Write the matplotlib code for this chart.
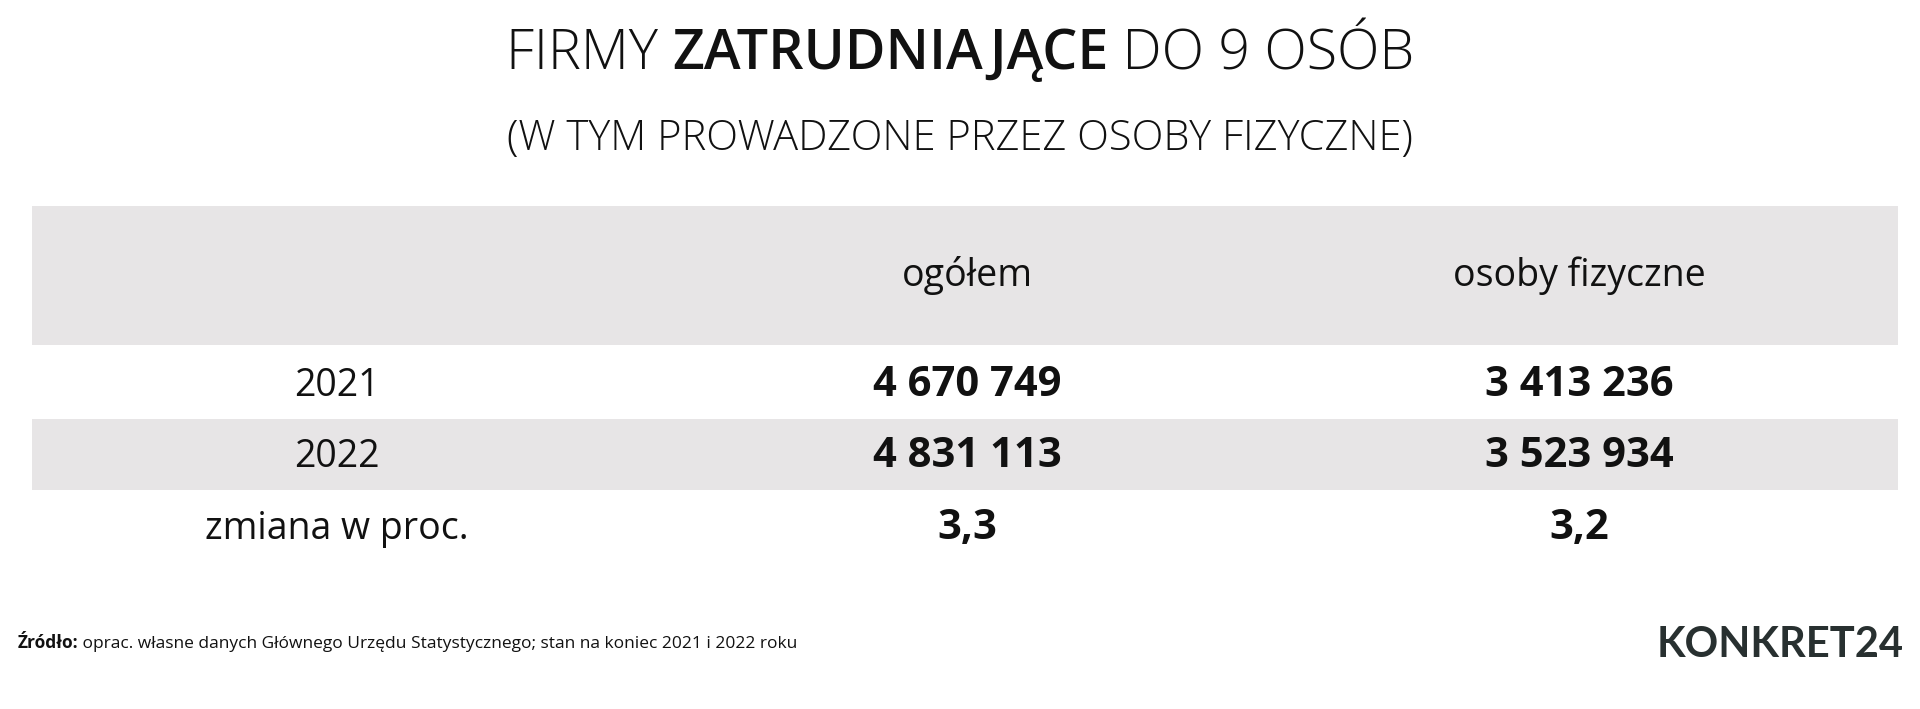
import matplotlib
matplotlib.use("Agg")
import matplotlib.pyplot as plt
from matplotlib.patches import Rectangle

columns = ["ogółem", "osoby fizyczne"]
row_labels = ["2021", "2022", "zmiana w proc."]
ogolem = ["4 670 749", "4 831 113", "3,3"]
fizyczne = ["3 413 236", "3 523 934", "3,2"]

F = "Open Sans"
fig = plt.figure(figsize=(19.2, 7.09), dpi=100)
ax = fig.add_axes([0, 0, 1, 1])
ax.set_xlim(0, 1568); ax.set_ylim(579, 0); ax.axis("off")
gray = "#e7e5e6"

# title
ax.text(784, 45, "FIRMY ", ha="right", va="center", fontsize=1, alpha=0)
t1 = "FIRMY "; t2 = "ZATRUDNIAJĄCE"; t3 = " DO 9 OSÓB"
from matplotlib.offsetbox import TextArea, HPacker, AnchoredOffsetbox
parts = [TextArea(t1, textprops=dict(family=F, fontsize=40, fontweight="light", color="#111")),
         TextArea(t2, textprops=dict(family=F, fontsize=40, fontweight="semibold", color="#111")),
         TextArea(t3, textprops=dict(family=F, fontsize=40, fontweight="light", color="#111"))]
box = HPacker(children=parts, align="baseline", pad=0, sep=0)
ab = AnchoredOffsetbox(loc="center", child=box, frameon=False, bbox_to_anchor=(0.5, 1-45/579),
                       bbox_transform=fig.transFigure, pad=0, borderpad=0)
ax.add_artist(ab)
ax.text(784, 113, "(W TYM PROWADZONE PRZEZ OSOBY FIZYCZNE)", ha="center", va="center",
        family=F, fontsize=30, fontweight="light", color="#111")

ax.add_patch(Rectangle((26, 168), 1524, 114, color=gray, lw=0))
ax.add_patch(Rectangle((26, 342), 1524, 58, color=gray, lw=0))

cx = [275, 790, 1290]
for x, c in zip(cx[1:], columns):
    ax.text(x, 225, c, ha="center", va="center", family=F, fontsize=27, color="#111")
ys = [315, 373, 432]
for y, lab, a, b in zip(ys, row_labels, ogolem, fizyczne):
    ax.text(cx[0], y, lab, ha="center", va="center", family=F, fontsize=27, color="#111")
    ax.text(cx[1], y, a, ha="center", va="center", family=F, fontsize=30, fontweight="bold", color="#111")
    ax.text(cx[2], y, b, ha="center", va="center", family=F, fontsize=30, fontweight="bold", color="#111")

src = [TextArea("Źródło:", textprops=dict(family=F, fontsize=12.5, fontweight="bold", color="#111")),
       TextArea(" oprac. własne danych Głównego Urzędu Statystycznego; stan na koniec 2021 i 2022 roku",
                textprops=dict(family=F, fontsize=12.5, color="#111"))]
sb = HPacker(children=src, align="baseline", pad=0, sep=0)
ab2 = AnchoredOffsetbox(loc="center left", child=sb, frameon=False, bbox_to_anchor=(14/1568, 1-525/579),
                        bbox_transform=fig.transFigure, pad=0, borderpad=0)
ax.add_artist(ab2)
ax.text(1555, 527, "KONKRET24", ha="right", va="center", family="Lato", fontsize=30,
        fontweight="bold", color="#283030")
fig.savefig("out.png", dpi=100, facecolor="white")
